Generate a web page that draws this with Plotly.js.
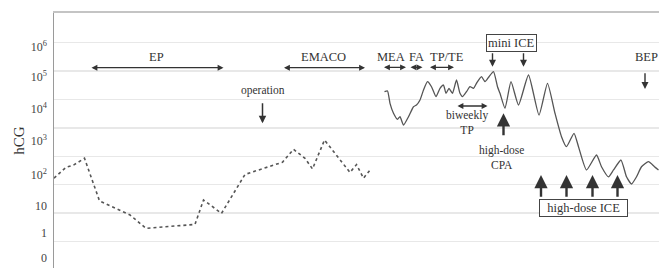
<!DOCTYPE html>
<html>
<head>
<meta charset="utf-8">
<script src="https://cdn.plot.ly/plotly-3.0.1.min.js"></script>
<style>
html,body{margin:0;padding:0;background:#fff;overflow:hidden;}
#chart{width:659px;height:268px;}
</style>
</head>
<body>
<div id="chart"></div>
<script>
// ---- data (time in weeks, hCG values) ----
const weeksEarly = [0, 2.4, 3.9, 6.1, 9.1, 15.2, 18.4, 28.2, 29.9, 33.5, 38.2, 45.7, 47.9, 50.2, 51.7, 54.1, 59.2, 60.5, 61.9, 63.1];
const hcgEarly   = [17, 41, 49, 85, 2.7, 0.86, 0.29, 0.40, 2.9, 0.98, 23, 62, 176, 85, 36, 375, 27, 51, 17, 31];

const weeksLate = [66.1, 66.7, 67.2, 67.9, 68.7, 69.2, 69.9, 70.9, 71.9, 72.5,
                   73.2, 73.9, 74.7, 75.5, 76.4, 77.2, 77.9, 78.4, 79.0, 79.7,
                   80.5, 81.2, 81.7, 82.5, 83.2, 83.9, 84.5, 85.5, 86.2, 87.0,
                   87.9, 88.7, 89.2, 90.2, 91.4, 92.9, 94.9, 97.0, 98.7, 100.2,
                   101.5, 102.5, 104.0, 104.9, 106.5, 108.5, 109.5, 110.9, 111.9, 113.4,
                   114.5, 115.5, 116.5, 117.5, 118.9, 120.1, 120.9];
const hcgLate = [18800, 20000, 7350, 3270, 2010, 2480, 1260, 2480, 5570, 6400,
                 9600, 21600, 42400, 28200, 12600, 24800, 32400, 16500, 24800, 16500,
                 48600, 16500, 12600, 18800, 28200, 24800, 37200, 63500, 42400, 63500,
                 95300, 28200, 16500, 4900, 42400, 6400, 73000, 2840, 37200, 3270,
                 490, 218, 646, 218, 33, 111, 43, 19, 33, 74,
                 19, 10.6, 19, 43, 65, 43, 33];

const tickLabels = ['0', '1', '10', '10<sup>2</sup>', '10<sup>3</sup>', '10<sup>4</sup>', '10<sup>5</sup>', '10<sup>6</sup>'];
const gridDecades = [0.1, 1, 10, 100, 1000, 10000, 100000, 1000000];

// ---- layout config ----
const tickLabelLog = [-1.581, -0.701, 0.25, 1.342, 2.539, 3.665, 4.81, 5.866];
const tickLabelPos = tickLabelLog.map(v => Math.pow(10, v));
const yRange = [-1.933, 7.046];
const xRange = [0, 121];
const serif = 'Liberation Serif, Times New Roman, serif';
const ink = '#333';

const traces = [
  {x: weeksEarly, y: hcgEarly, type: 'scatter', mode: 'lines',
   line: {color: '#555', width: 1.6, dash: 'dot'}, hoverinfo: 'skip', showlegend: false},
  {x: weeksLate, y: hcgLate, type: 'scatter', mode: 'lines',
   line: {color: '#555', width: 1.3, shape: 'spline', smoothing: 0.5}, hoverinfo: 'skip', showlegend: false},
  {x: [], y: [], yaxis: 'y2', type: 'scatter', mode: 'lines', hoverinfo: 'skip', showlegend: false}
];

function txt(x, y, text, size) {
  return {xref: 'x', yref: 'y', x: x, y: y, text: text, showarrow: false,
          font: {family: serif, size: size || 12.5, color: ink}};
}
function arrow(x0, y0, x1, y1, opts) {
  return Object.assign({xref: 'x', yref: 'y', axref: 'x', ayref: 'y',
          x: x1, y: y1, ax: x0, ay: y0, text: '', showarrow: true,
          arrowcolor: ink, arrowwidth: 1.2, arrowhead: 2, arrowsize: 1, standoff: 0, startstandoff: 0}, opts || {});
}
function dbl(x0, x1, y) {
  return arrow(x0, y, x1, y, {arrowside: 'end+start', arrowwidth: 1.3, arrowsize: 0.9});
}
function upThick(x, y0, y1) {
  return arrow(x, y0, x, y1, {arrowwidth: 2.4, arrowhead: 2, arrowsize: 1.1});
}

const annotations = [
  txt(20.5, 5.507, 'EP'),
  dbl(7.2, 33.9, 5.12),
  txt(53.9, 5.507, 'EMACO'),
  dbl(45.7, 62.2, 5.12),
  txt(41.7, 4.31, 'operation', 11.5),
  arrow(41.7, 3.92, 41.7, 3.16, {arrowwidth: 1.5}),
  txt(67.3, 5.486, 'MEA'),
  dbl(65.7, 70.4, 5.134),
  txt(72.4, 5.486, 'FA'),
  dbl(71.0, 73.7, 5.134),
  txt(78.5, 5.486, 'TP/TE'),
  dbl(74.9, 80.0, 5.134),
  Object.assign(txt(91.4, 5.98, 'mini ICE'), {bordercolor: '#444', borderwidth: 1, borderpad: 1, bgcolor: '#fff'}),
  arrow(87.7, 5.683, 87.7, 5.155, {arrowwidth: 1.4}),
  arrow(93.9, 5.683, 93.9, 5.155, {arrowwidth: 1.4}),
  txt(118.4, 5.486, 'BEP'),
  arrow(118.2, 4.979, 118.2, 4.37, {arrowwidth: 1.4}),
  txt(82.5, 3.18, 'biweekly<br>TP', 11.5),
  dbl(80.4, 86.7, 3.771),
  txt(89.4, 1.958, 'high-dose<br>CPA', 11.5),
  upThick(89.9, 2.69, 3.514),
  Object.assign(txt(105.9, 0.169, '  high-dose ICE  '), {bordercolor: '#444', borderwidth: 1, borderpad: 1, bgcolor: '#fff'}),
  upThick(97.4, 0.521, 1.342),
  upThick(102.5, 0.521, 1.342),
  upThick(107.7, 0.521, 1.342),
  upThick(112.7, 0.521, 1.342)
];

const layout = {
  width: 659, height: 268,
  margin: {l: 54, r: 0, t: 13, b: 0, pad: 0},
  paper_bgcolor: '#fff', plot_bgcolor: '#fff',
  showlegend: false,
  xaxis: {range: xRange, side: 'top', showline: true, linecolor: '#c4c4c4', linewidth: 2,
          showgrid: false, zeroline: false, showticklabels: false, ticks: ''},
  yaxis: {type: 'log', range: yRange, showline: true, linecolor: '#9a9a9a', linewidth: 1.5,
          showgrid: true, gridcolor: '#e8e8e8', gridwidth: 1.5, zeroline: false, ticks: '',
          tickmode: 'array', tickvals: gridDecades, showticklabels: false,
          title: {text: 'hCG', standoff: 24, font: {family: serif, size: 15, color: ink}}},
  yaxis2: {type: 'log', range: yRange, overlaying: 'y', side: 'left', showline: false,
           color: '#444',
           showgrid: false, zeroline: false, ticks: '',
           tickmode: 'array', tickvals: tickLabelPos, ticktext: tickLabels,
           ticklabelstandoff: 6,
           tickfont: {family: serif, size: 12, color: '#444'}},
  annotations: annotations
};

Plotly.newPlot('chart', traces, layout, {staticPlot: true, displayModeBar: false});
</script>
</body>
</html>
